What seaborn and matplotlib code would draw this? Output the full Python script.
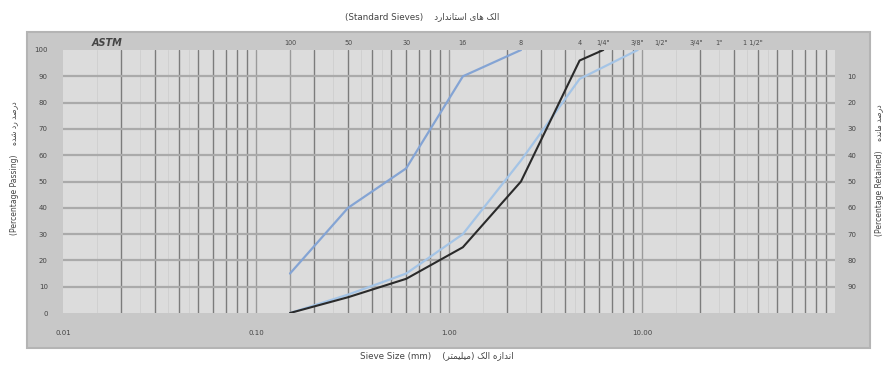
import numpy as np
import pandas as pd
import matplotlib
matplotlib.use("Agg")
import matplotlib.pyplot as plt
import matplotlib.patches as patches
import seaborn as sns

# ----------------------------------------------------------------------------------------------------------------------
# data (sieve size in mm, percentage passing)
fine_size = [0.15, 0.3, 0.6, 1.18, 2.36]
fine_pass = [15, 40, 55, 90, 100]

sample_size = [0.15, 0.3, 0.6, 1.18, 2.36, 4.75, 6.3]
sample_pass = [0, 6, 13, 25, 50, 96, 100]

coarse_size = [0.15, 0.3, 0.6, 1.18, 2.36, 4.75, 9.5]
coarse_pass = [0, 7, 15, 30, 58, 89, 100]

sieve_sizes = [0.15, 0.3, 0.6, 1.18, 2.36, 4.75, 6.3, 9.5, 12.5, 19, 25, 37.5]
sieve_names = ['100', '50', '30', '16', '8', '4', '1/4"', '3/8"', '1/2"', '3/4"', '1"', '1 1/2"']

x_ticks = [0.01, 0.1, 1, 10]
x_tick_labels = ['0.01', '0.10', '1.00', '10.00']
passing_ticks = list(range(0, 101, 10))
retained_ticks = list(range(10, 91, 10))

# ----------------------------------------------------------------------------------------------------------------------
# tiny persian shaper (matplotlib has no bidi / joining)
FORMS = {
    'ا': ('\ufe8d', '\ufe8e', None, None),
    'د': ('\ufea9', '\ufeaa', None, None),
    'ر': ('\ufead', '\ufeae', None, None),
    'ز': ('\ufeaf', '\ufeb0', None, None),
    'ص': ('\ufeb9', '\ufeba', '\ufebb', '\ufebc'),
    'ه': ('\ufee9', '\ufeea', '\ufeeb', '\ufeec'),
    'ش': ('\ufeb5', '\ufeb6', '\ufeb7', '\ufeb8'),
    'ن': ('\ufee5', '\ufee6', '\ufee7', '\ufee8'),
    'م': ('\ufee1', '\ufee2', '\ufee3', '\ufee4'),
    'ل': ('\ufedd', '\ufede', '\ufedf', '\ufee0'),
    'ک': ('\ufb8e', '\ufb8f', '\ufb90', '\ufb91'),
    'ی': ('\ufbfc', '\ufbfd', '\ufbfe', '\ufbff'),
    'ت': ('\ufe95', '\ufe96', '\ufe97', '\ufe98'),
    'س': ('\ufeb1', '\ufeb2', '\ufeb3', '\ufeb4'),
}


def shape(text):
    out = []
    for i, ch in enumerate(text):
        if ch not in FORMS:
            out.append(ch)
            continue
        prev = text[i - 1] if i > 0 else ''
        nxt = text[i + 1] if i + 1 < len(text) else ''
        joins_prev = prev in FORMS and FORMS[prev][2] is not None
        joins_next = nxt in FORMS and FORMS[ch][2] is not None
        iso, fin, ini, med = FORMS[ch]
        if joins_prev and joins_next:
            out.append(med)
        elif joins_prev:
            out.append(fin)
        elif joins_next:
            out.append(ini)
        else:
            out.append(iso)
    mirror = {'(': ')', ')': '('}
    return ''.join(mirror.get(c, c) for c in reversed(out))


# ----------------------------------------------------------------------------------------------------------------------
sns.set_style("white")
plt.rcParams['font.family'] = ['DejaVu Sans']

W, H = 886, 365
fig = plt.figure(figsize=(W / 100, H / 100), dpi=100)

# outer grey frame
frame = patches.Rectangle((27 / W, 1 - 348 / H), (870 - 27) / W, (348 - 32) / H,
                          transform=fig.transFigure, facecolor='#c8c8c8',
                          edgecolor='#b4b4b4', linewidth=1.5, zorder=-10)
fig.patches.append(frame)

ax = fig.add_axes([63 / W, 1 - 313 / H, (835 - 63) / W, (313 - 50) / H])
ax.set_zorder(1)
ax.set_facecolor('#dcdcdc')
ax.set_xscale('log')
ax.set_xlim(0.01, 100)
ax.set_ylim(0, 100)

# grid
for v in [m * 10.0 ** e for e in range(-2, 2) for m in [1.5, 2.5, 3.5, 4.5]]:
    ax.axvline(v, color='#cecece', lw=0.6, zorder=1)
for v in [m * 10.0 ** e for e in range(-2, 2) for m in range(2, 10)]:
    ax.axvline(v, color='#7c7c7c', lw=1.0, zorder=1)
for v in [0.1, 1, 10]:
    ax.axvline(v, color='#9a9a9a', lw=1.0, zorder=1)
ax.axvline(sieve_sizes[0], color='#9a9a9a', lw=1.0, zorder=1)
for v in passing_ticks[1:-1]:
    ax.axhline(v, color='#aaaaaa', lw=1.6, zorder=1)

sns.lineplot(x=fine_size, y=fine_pass, sort=False, color='#84a4d4', lw=1.6, ax=ax, zorder=3)
sns.lineplot(x=coarse_size, y=coarse_pass, sort=False, color='#a4c4e6', lw=1.6, ax=ax, zorder=3)
sns.lineplot(x=sample_size, y=sample_pass, sort=False, color='#2a2a2a', lw=1.5, ax=ax, zorder=4)

for s in ax.spines.values():
    s.set_visible(False)

ax.set_xticks(x_ticks)
ax.set_xticklabels(x_tick_labels)
ax.xaxis.set_minor_locator(matplotlib.ticker.NullLocator())
ax.set_yticks(passing_ticks)
ax.tick_params(axis='x', length=0, pad=12, labelsize=5, labelcolor='#444444')
ax.tick_params(axis='y', length=0, pad=11, labelsize=5, labelcolor='#444444')
ax.set_xlabel('')
ax.set_ylabel('')

ax2 = ax.twinx()
ax2.set_ylim(100, 0)
ax2.set_yticks(retained_ticks)
ax2.tick_params(axis='y', length=0, pad=9, labelsize=5, labelcolor='#444444')
ax2.patch.set_visible(False)
for s in ax2.spines.values():
    s.set_visible(False)

# sieve labels along the top
for size, name in zip(sieve_sizes, sieve_names):
    ax.annotate(name, xy=(size, 1.0), xycoords=('data', 'axes fraction'),
                xytext=(0, 5), textcoords='offset points', ha='center', va='center',
                fontsize=4.7, color='#4a4a4a')
ax.annotate('ASTM', xy=(0.057, 1.0), xycoords='axes fraction', xytext=(0, 5),
            textcoords='offset points', ha='center', va='center', fontsize=7,
            fontweight='bold', fontstyle='italic', color='#444444')

# titles
fig.text(422 / W, 1 - 17 / H, '(Standard Sieves)    ' + shape('الک های استاندارد'),
         ha='center', va='center', fontsize=6.3, color='#444444')
fig.text(437 / W, 1 - 356 / H, 'Sieve Size (mm)    ' + shape('اندازه الک (میلیمتر)'),
         ha='center', va='center', fontsize=6.3, color='#444444')
fig.text(15 / W, 1 - 168 / H, '(Percentage Passing)    ' + shape('درصد رد شده'),
         ha='center', va='center', rotation=90, fontsize=5.5, color='#444444')
fig.text(879 / W, 1 - 170 / H, '(Percentage Retained)    ' + shape('درصد مانده'),
         ha='center', va='center', rotation=90, fontsize=5.5, color='#444444')

fig.savefig('out.png', dpi=100)
